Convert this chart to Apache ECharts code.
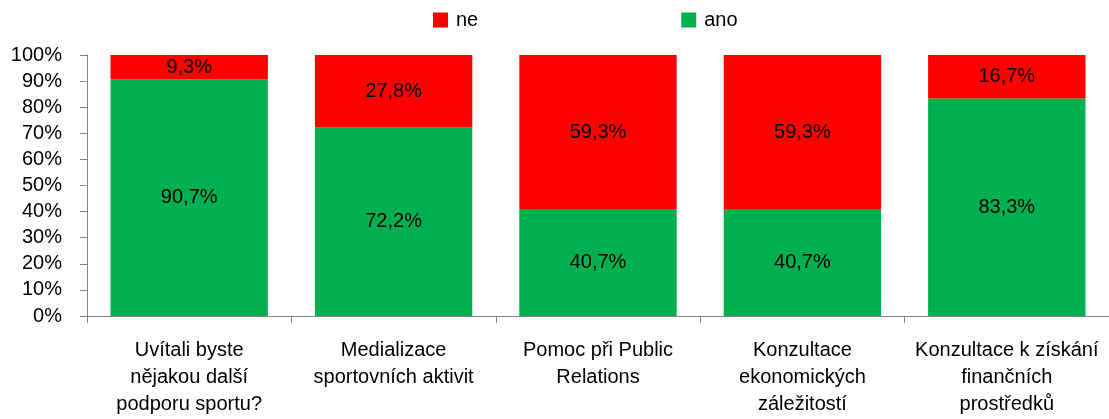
<!DOCTYPE html>
<html>
<head>
<meta charset="utf-8">
<script src="https://cdn.jsdelivr.net/npm/echarts@6/dist/echarts.min.js"></script>
<style>
  html, body { margin: 0; padding: 0; background: #fff; }
  #chart { width: 1109px; height: 419px; }
</style>
</head>
<body>
<div id="chart"></div>
<script>
// Survey answers: share of "ano" / "ne" per question (percent)
const categories = [
  'Uvítali byste\nnějakou další\npodporu sportu?',
  'Medializace\nsportovních aktivit',
  'Pomoc při Public\nRelations',
  'Konzultace\nekonomických\nzáležitostí',
  'Konzultace k získání\nfinančních\nprostředků'
];
const anoValues = [90.7, 72.2, 40.7, 40.7, 83.3];
const neValues = [9.3, 27.8, 59.3, 59.3, 16.7];
const yTicks = [0, 10, 20, 30, 40, 50, 60, 70, 80, 90, 100];

const FONT = "'Liberation Sans', Arial, sans-serif";
const FS = 20;
const fmtPct = v => v.toFixed(1).replace('.', ',') + '%';

const chart = echarts.init(document.getElementById('chart'), null, { renderer: 'canvas' });

const labelStyle = {
  show: true,
  position: 'inside',
  color: '#000',
  fontFamily: FONT,
  fontSize: FS,
  formatter: p => fmtPct(p.value)
};

chart.setOption({
  animation: false,
  textStyle: { fontFamily: FONT },
  legend: {
    top: 5,
    left: 428,
    padding: 5,
    itemWidth: 15,
    itemHeight: 15,
    itemGap: 203,
    icon: 'rect',
    textStyle: { fontSize: FS, color: '#000', fontFamily: FONT, padding: [0, 0, 0, 3] },
    data: ['ne', 'ano']
  },
  grid: { left: 87, right: -2, top: 55, bottom: 103, containLabel: false },
  xAxis: {
    type: 'category',
    data: categories,
    axisLine: { lineStyle: { color: '#868686', width: 1 } },
    axisTick: { show: true, length: 7, lineStyle: { color: '#868686' } },
    axisLabel: {
      color: '#000',
      fontSize: FS,
      fontFamily: FONT,
      lineHeight: 27,
      margin: 21,
      interval: 0
    }
  },
  yAxis: {
    type: 'value',
    min: 0,
    max: 100,
    interval: 10,
    axisLine: { show: true, lineStyle: { color: '#868686', width: 1 } },
    axisTick: { show: true, length: 7, lineStyle: { color: '#868686' } },
    splitLine: { show: false },
    axisLabel: {
      color: '#000',
      fontSize: FS,
      fontFamily: FONT,
      margin: 25,
      formatter: v => yTicks.includes(v) ? v + '%' : ''
    }
  },
  series: [
    {
      name: 'ano',
      type: 'bar',
      stack: 'total',
      barCategoryGap: '23%',
      itemStyle: { color: '#00b050' },
      label: labelStyle,
      data: anoValues
    },
    {
      name: 'ne',
      type: 'bar',
      stack: 'total',
      barCategoryGap: '23%',
      itemStyle: { color: '#ff0000' },
      label: labelStyle,
      data: neValues
    }
  ]
});
</script>
</body>
</html>
